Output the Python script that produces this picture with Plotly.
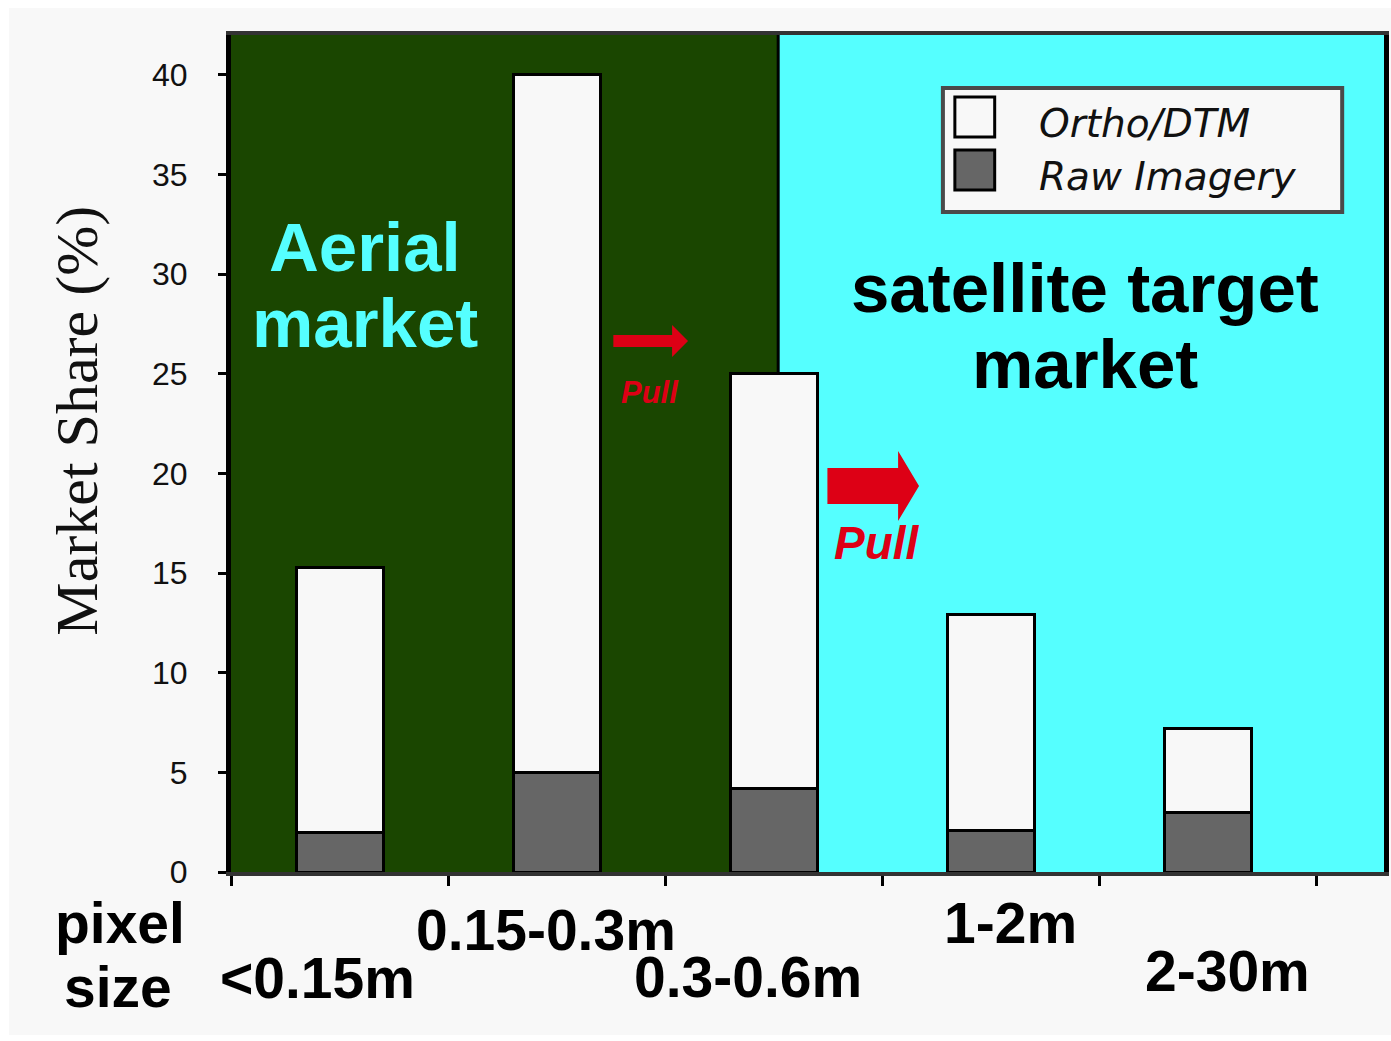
import plotly.graph_objects as go

# Market share by pixel size (%)
categories = ["<0.15m", "0.15-0.3m", "0.3-0.6m", "1-2m", "2-30m"]
raw_imagery = [2.0, 5.0, 4.2, 2.1, 3.0]
ortho_dtm = [13.3, 35.0, 20.8, 10.8, 4.2]
y_ticks = [0, 5, 10, 15, 20, 25, 30, 35, 40]

# Category label placement below the axis (x offset in category units, row in page px)
label_offsets = [-0.10, -0.05, -0.12, 0.09, 0.09]
label_rows_px = [978, 930, 977, 923, 971]

W, H = 1391, 1041
L, R, T, B = 231, 2, 35, 169
PW, PH = W - L - R, H - T - B

GREEN = "#1a4600"
CYAN = "#55ffff"
RED = "#dd0015"
PAPER = "#f8f8f8"
SANS = "Liberation Sans, Arial, sans-serif"


def px(xp):
    """Horizontal page pixel -> paper fraction."""
    return (xp - L) / PW


def py(yp):
    """Vertical page pixel -> paper fraction."""
    return (H - B - yp) / PH


x_idx = list(range(len(categories)))

fig = go.Figure()
fig.add_trace(go.Bar(
    x=x_idx, y=raw_imagery, name="Raw Imagery", width=0.4,
    marker=dict(color="#666666", line=dict(color="black", width=3)),
))
fig.add_trace(go.Bar(
    x=x_idx, y=ortho_dtm, name="Ortho/DTM", width=0.4,
    marker=dict(color=PAPER, line=dict(color="black", width=3)),
))

split = 2.02  # boundary between aerial and satellite regions
shapes = [
    # page background with a thin white rim
    dict(type="rect", xref="paper", yref="paper", x0=px(8), x1=px(W + 5),
         y0=py(1035), y1=py(8), fillcolor=PAPER, line_width=0, layer="below"),
    dict(type="rect", xref="x", yref="paper", x0=-0.5, x1=split, y0=0, y1=1,
         fillcolor=GREEN, line_width=0, layer="below"),
    dict(type="rect", xref="x", yref="paper", x0=split, x1=4.81, y0=0, y1=1,
         fillcolor=CYAN, line_width=0, layer="below"),
    dict(type="line", xref="x", yref="paper", x0=split, x1=split, y0=0, y1=1,
         line=dict(color="black", width=3), layer="below"),
]


def arrow(x0, xh, tip, yc, half_shaft, half_head):
    pts = [
        (x0, yc - half_shaft), (xh, yc - half_shaft), (xh, yc - half_head),
        (tip, yc), (xh, yc + half_head), (xh, yc + half_shaft), (x0, yc + half_shaft),
    ]
    d = "M " + " L ".join(f"{px(a):.5f},{py(b):.5f}" for a, b in pts) + " Z"
    return dict(type="path", xref="paper", yref="paper", path=d,
                fillcolor=RED, line_width=0, layer="above")


shapes.append(arrow(615, 674, 690, 341, 6, 16))
shapes.append(arrow(830, 901, 922, 486, 18, 35))

# legend box and swatches
shapes += [
    dict(type="rect", xref="paper", yref="paper", x0=px(946), x1=px(1347),
         y0=py(212), y1=py(88), fillcolor=PAPER, line=dict(color="#4a4a4a", width=4)),
    dict(type="rect", xref="paper", yref="paper", x0=px(958), x1=px(998),
         y0=py(137), y1=py(97), fillcolor=PAPER, line=dict(color="black", width=3)),
    dict(type="rect", xref="paper", yref="paper", x0=px(958), x1=px(998),
         y0=py(190), y1=py(150), fillcolor="#666666", line=dict(color="black", width=3)),
]

annotations = []


def note(text, x, y, size, color="black", xref="paper", yref="paper", bold=True,
         italic=False, family=SANS, xanchor="center", angle=0):
    annotations.append(dict(
        text=text, x=x, y=y, xref=xref, yref=yref, showarrow=False,
        xanchor=xanchor, yanchor="middle", textangle=angle,
        font=dict(family=family, size=size, color=color,
                  weight="bold" if bold else "normal",
                  style="italic" if italic else "normal"),
    ))


note("Aerial", px(366), py(248), 69, CYAN)
note("market", px(366), py(323), 69, CYAN)
note("satellite target", px(1089), py(288), 69, "black")
note("market", px(1089), py(364), 69, "black")
note("Pull", px(652), py(392), 31, RED, italic=True)
note("Pull", px(880), py(543), 46, RED, italic=True)
note("Ortho/DTM", px(1040), py(123), 39, "#111111", bold=False, italic=True,
     family="DejaVu Sans, sans-serif", xanchor="left")
note("Raw Imagery", px(1040), py(177), 39, "#111111", bold=False, italic=True,
     family="DejaVu Sans, sans-serif", xanchor="left")
note("Market Share (%)", px(76), py(421), 60, "#111111", bold=False,
     family="Liberation Serif, Times New Roman, serif", angle=-90)
note("pixel", px(120), py(923), 57)
note("size", px(118), py(987), 57)

for i, (cat, off, row) in enumerate(zip(categories, label_offsets, label_rows_px)):
    note(cat, i + off, py(row), 57, xref="x")

fig.update_layout(
    width=W, height=H,
    margin=dict(l=L, r=R, t=T, b=B, pad=0),
    barmode="stack",
    bargap=0.6,
    showlegend=False,
    paper_bgcolor="white",
    plot_bgcolor=PAPER,
    shapes=shapes,
    annotations=annotations,
    xaxis=dict(
        range=[-0.5, 4.81], tickvals=[-0.5, 0.5, 1.5, 2.5, 3.5, 4.5],
        showticklabels=False, ticks="outside", ticklen=10, tickwidth=3,
        tickcolor="black", showgrid=False, zeroline=False,
        showline=True, linecolor="#333333", linewidth=4, mirror=True,
    ),
    yaxis=dict(
        range=[0, 42], tickvals=y_ticks, ticktext=[str(v) for v in y_ticks],
        ticks="outside", ticklen=8, tickwidth=3, tickcolor="black",
        ticklabelstandoff=24,
        tickfont=dict(family=SANS, size=32, color="#111111"),
        showgrid=False, zeroline=False,
        showline=True, linecolor="black", linewidth=5, mirror=True,
    ),
)

fig.write_html("out.html")
